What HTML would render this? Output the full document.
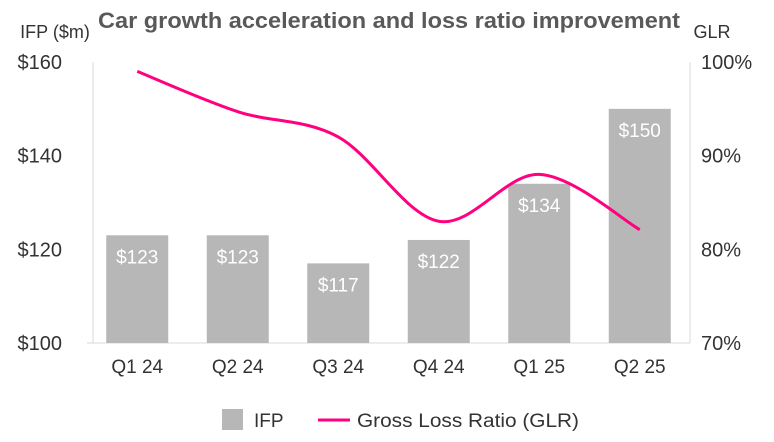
<!DOCTYPE html>
<html><head><meta charset="utf-8"><style>
body{margin:0;background:#fff;}
svg text{font-family:"Liberation Sans",sans-serif;}
</style></head><body>
<svg id="chart" width="774" height="437">
<text x="98" y="28" font-size="22" font-weight="bold" fill="#595959" textLength="582" lengthAdjust="spacingAndGlyphs">Car growth acceleration and loss ratio improvement</text>
<text x="55" y="38" text-anchor="middle" font-size="18" fill="#333">IFP ($m)</text>
<text x="712" y="38" text-anchor="middle" font-size="18" fill="#333">GLR</text>
<g id="axes"></g><g id="bars"></g><g id="line"></g>
<g>
<rect x="222" y="409" width="21" height="21" fill="#b7b7b7"/>
<text x="254" y="427" font-size="19" fill="#333">IFP</text>
<line x1="318" y1="420" x2="350" y2="420" stroke="#ff007f" stroke-width="3"/>
<text x="357" y="427" font-size="19" fill="#333" textLength="222" lengthAdjust="spacingAndGlyphs">Gross Loss Ratio (GLR)</text>
</g>
</svg>
<script>
const categories=["Q1 24","Q2 24","Q3 24","Q4 24","Q1 25","Q2 25"];
const ifpValues=[123,123,117,122,134,150];
const glrValues=[99.0,94.7,92.0,83.0,88.0,82.1];
const leftTicks=[100,120,140,160];
const rightTicks=[70,80,90,100];
const NS="http://www.w3.org/2000/svg";
const X0=87,X1=690,Y0=343,Y1=62;
const bw=(X1-X0)/categories.length;
const xc=i=>X0+bw*(i+0.5);
const yL=v=>Y0-(v-100)/60*(Y0-Y1);
const yR=v=>Y0-(v-70)/30*(Y0-Y1);
function mk(tag,attrs,parent,txt){const e=document.createElementNS(NS,tag);for(const k in attrs)e.setAttribute(k,attrs[k]);if(txt!==undefined)e.textContent=txt;parent.appendChild(e);return e;}
const ax=document.getElementById('axes');
let e=mk('line',{x1:93,y1:Y1,x2:93,y2:Y0,stroke:'#d9d9d9','stroke-width':1},ax);


e=mk('line',{x1:690,y1:Y1,x2:690,y2:Y0,stroke:'#d9d9d9','stroke-width':1},ax);


e=mk('line',{x1:X0,y1:Y0,x2:X1,y2:Y0,stroke:'#d9d9d9','stroke-width':1},ax);


leftTicks.forEach(t=>{const el=mk('text',{x:62,y:yL(t)+7,'text-anchor':'end','font-size':20,fill:'#333'},ax,'$'+t);

});
rightTicks.forEach(t=>{const el=mk('text',{x:701,y:yR(t)+7,'font-size':20,fill:'#333'},ax,t+'%');

});
categories.forEach((c,i)=>{const el=mk('text',{x:xc(i),y:373,'text-anchor':'middle','font-size':19,fill:'#333'},ax,c);

});
const bg=document.getElementById('bars');
ifpValues.forEach((v,i)=>{const w=62;
const r=mk('rect',{x:xc(i)-w/2,y:yL(v),width:w,height:Y0-yL(v),fill:'#b7b7b7'},bg);


const t=mk('text',{x:xc(i),y:yL(v)+28,'text-anchor':'middle','font-size':19,fill:'#fff'},bg,'$'+v);

});
const pts=glrValues.map((v,i)=>[xc(i),yR(v)]);
let d='M'+pts[0][0]+','+pts[0][1];
for(let i=0;i<pts.length-1;i++){const p0=pts[Math.max(0,i-1)],p1=pts[i],p2=pts[i+1],p3=pts[Math.min(pts.length-1,i+2)];
const c1=[p1[0]+(p2[0]-p0[0])/6,p1[1]+(p2[1]-p0[1])/6],c2=[p2[0]-(p3[0]-p1[0])/6,p2[1]-(p3[1]-p1[1])/6];
d+=' C'+c1+' '+c2+' '+p2;}
const ln=mk('path',{d:d,fill:'none',stroke:'#ff007f','stroke-width':3},document.getElementById('line'));


</script>
</body></html>
